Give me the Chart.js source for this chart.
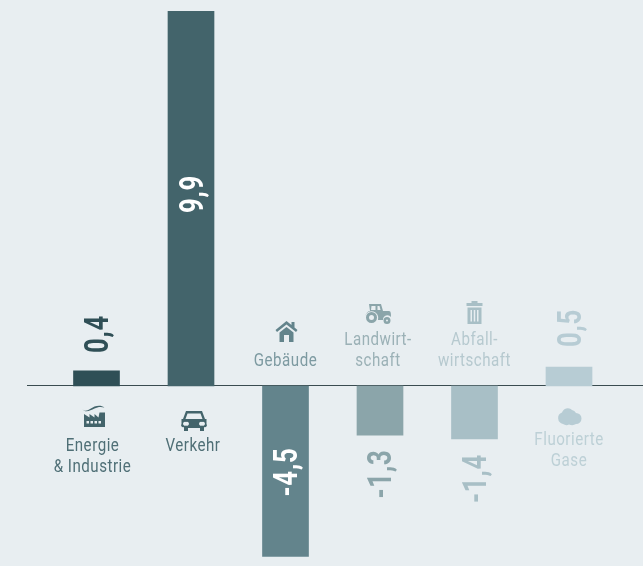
<!DOCTYPE html>
<html lang="de">
<head>
<meta charset="utf-8">
<title>Emissionen nach Sektoren</title>
<script src="https://cdn.jsdelivr.net/npm/chart.js@4"></script>
<style>
    html, body { margin: 0; padding: 0; background: #e8eef1; }
    #wrap { width: 643px; height: 566px; }
</style>
</head>
<body>
<div id="wrap"><canvas id="chart" width="643" height="566"></canvas></div>
<script>
// Daten
const categories = [['Energie', '& Industrie'], ['Verkehr'], ['Gebäude'], ['Landwirt-', 'schaft'], ['Abfall-', 'wirtschaft'], ['Fluorierte', 'Gase']];
const values = [0.4, 9.9, -4.5, -1.3, -1.4, 0.5];
const valueLabels = ['0,4', '9,9', '-4,5', '-1,3', '-1,4', '0,5'];

// Farben
const barColors = ['#2f4f56', '#43646b', '#63848c', '#8ba5aa', '#a8bfc6', '#b7ccd4'];
const textColors = ['#4f6f76', '#4f6f76', '#7d9aa1', '#9bb1b6', '#b6c9cf', '#bdd0d6'];
const valueColors = ['#2f4f56', '#ffffff', '#ffffff', '#8ba5aa', '#a8bfc6', '#b7ccd4'];
const iconColors = ['#43646b', '#43646b', '#63848c', '#8ba5aa', '#a8bfc6', '#b7ccd4'];

const FONT = 'Roboto, sans-serif';

// Piktogramme, relativ zum Mittelpunkt gezeichnet
const icons = [
    'M-10.5 7V-6L-5 -2.5V-6L0 -2.5V-6L4 -2.5L5 -7.5H10.5V7Z M-8 1V3.5H-5.5V1Z M-4 1V3.5H-1.5V1Z M0 1V3.5H2.5V1Z M4 1V3.5H6.5V1Z M-12 -10.5C-8 -7 -4 -12 0 -13.5C4 -14.5 7 -14.5 10 -12.5C6 -13.5 3 -13 0 -11.5C-4 -9.5 -9 -7 -12 -10.5Z',
    'M-8 -10H8L11 -2L12.5 -2V3A2 2 0 0 1 10 6V10H6V7H-6V10H-10V6A2 2 0 0 1 -12.5 3V-2L-11 -2Z M-6.5 -7.5L-8.5 -2H8.5L6.5 -7.5Z M-8 1A2 2 0 1 0 -8 4.5A2 2 0 1 0 -8 1Z M8 1A2 2 0 1 0 8 4.5A2 2 0 1 0 8 1Z',
    'M0 -11L5 -7V-10H8V-4.5L11 -2L9.5 0L0 -7.5L-9.5 0L-11 -2Z M-7 0.5L0 -5L7 0.5V10H2.5V3H-2.5V10H-7Z',
    'M-9 -10H3L5 -3H11C13 -3 13 0 13 3A4.5 4.5 0 0 0 5 6H0A6.5 6.5 0 0 0 -13 2C-12 -1 -10 -3 -8 -3Z M-6.5 -8L-7 -4H-2.5V-8Z M-0.5 -8V-4H2.5L1.5 -8Z M-6.5 -2A5.5 5.5 0 1 0 -6.5 9A5.5 5.5 0 1 0 -6.5 -2Z M-6.5 1A2.5 2.5 0 1 1 -6.5 6A2.5 2.5 0 1 1 -6.5 1Z M9 3A3.5 3.5 0 1 0 9 10A3.5 3.5 0 1 0 9 3Z M9 5.5A1 1 0 1 1 9 7.5A1 1 0 1 1 9 5.5Z',
    'M-3 -12H3V-10H8V-7H-8V-10H-3Z M-7 -5.5H7V11H-7Z M-4 -3V8.5H-2.5V-3Z M-0.75 -3V8.5H0.75V-3Z M2.5 -3V8.5H4V-3Z',
    'M-6 9A6 6 0 0 1 -7 -2.5A6 6 0 0 1 3 -5A6.5 6.5 0 0 1 7 -2A5.5 5.5 0 0 1 7 9Q4 11 0 9.5Q-3 11 -6 9Z'
];

// Abstände von der Balkenmitte bzw. Nulllinie
const labelDx = [-4, 2, 0, -2, 0, 0];
const labelBaseline = [65.5, 65.5, -19.5, -40.5, -40.5, 59.5];
const iconDx = [-2, 3, 1, -2, 0, 0];
const iconDy = [34, 35, -54, -72, -73, 29];
const valueDx = [3, 4, 3, 3, 3, 4];
const valueCenterDy = [-52, -192, 86, 88, 92.5, -58];

const zeroLine = {
    id: 'zeroLine',
    beforeDatasetsDraw(chart) {
        const ctx = chart.ctx;
        const y = Math.round(chart.scales.y.getPixelForValue(0)) - 0.5;
        ctx.save();
        ctx.strokeStyle = '#3a4c50';
        ctx.lineWidth = 1;
        ctx.beginPath();
        ctx.moveTo(27, y);
        ctx.lineTo(chart.width, y);
        ctx.stroke();
        ctx.restore();
    }
};

const barTexts = {
    id: 'barTexts',
    afterDatasetsDraw(chart) {
        const ctx = chart.ctx;
        const yZero = chart.scales.y.getPixelForValue(0);
        categories.forEach((lines, i) => {
            const x = chart.scales.x.getPixelForValue(i);

            // Wert, um 90 Grad gedreht und schmaler gezogen
            ctx.save();
            ctx.translate(x + valueDx[i], yZero + valueCenterDy[i]);
            ctx.rotate(-Math.PI / 2);
            ctx.scale(0.78, 1);
            ctx.font = 'bold 33px ' + FONT;
            ctx.fillStyle = valueColors[i];
            ctx.letterSpacing = '1px';
            ctx.textAlign = 'center';
            ctx.textBaseline = 'middle';
            ctx.fillText(valueLabels[i], 0, 0);
            ctx.restore();

            // Kategorie
            lines.forEach((line, n) => {
                ctx.save();
                ctx.translate(x + labelDx[i], yZero + labelBaseline[i] + n * 21);
                ctx.scale(0.84, 1);
                ctx.font = '18px ' + FONT;
                ctx.fillStyle = textColors[i];
                ctx.textAlign = 'center';
                ctx.letterSpacing = '0.6px';
                ctx.fillText(line, 0, 0);
                ctx.restore();
            });

            // Piktogramm
            ctx.save();
            ctx.translate(x + iconDx[i], yZero + iconDy[i]);
            ctx.fillStyle = iconColors[i];
            ctx.fill(new Path2D(icons[i]), 'evenodd');
            ctx.restore();
        });
    }
};

document.addEventListener('DOMContentLoaded', () => {
    new Chart(document.getElementById('chart'), {
        type: 'bar',
        data: {
            labels: categories,
            datasets: [{
                data: values,
                backgroundColor: barColors,
                barThickness: 46,
                borderWidth: 0
            }]
        },
        options: {
            responsive: false,
            animation: false,
            layout: { padding: { left: 49.25, right: 26.75, top: 0, bottom: 0 } },
            scales: {
                x: { display: false },
                y: { display: false, min: -4.756, max: 10.198 }
            },
            plugins: {
                legend: { display: false },
                tooltip: { enabled: false }
            }
        },
        plugins: [zeroLine, barTexts]
    });
});
</script>
</body>
</html>
